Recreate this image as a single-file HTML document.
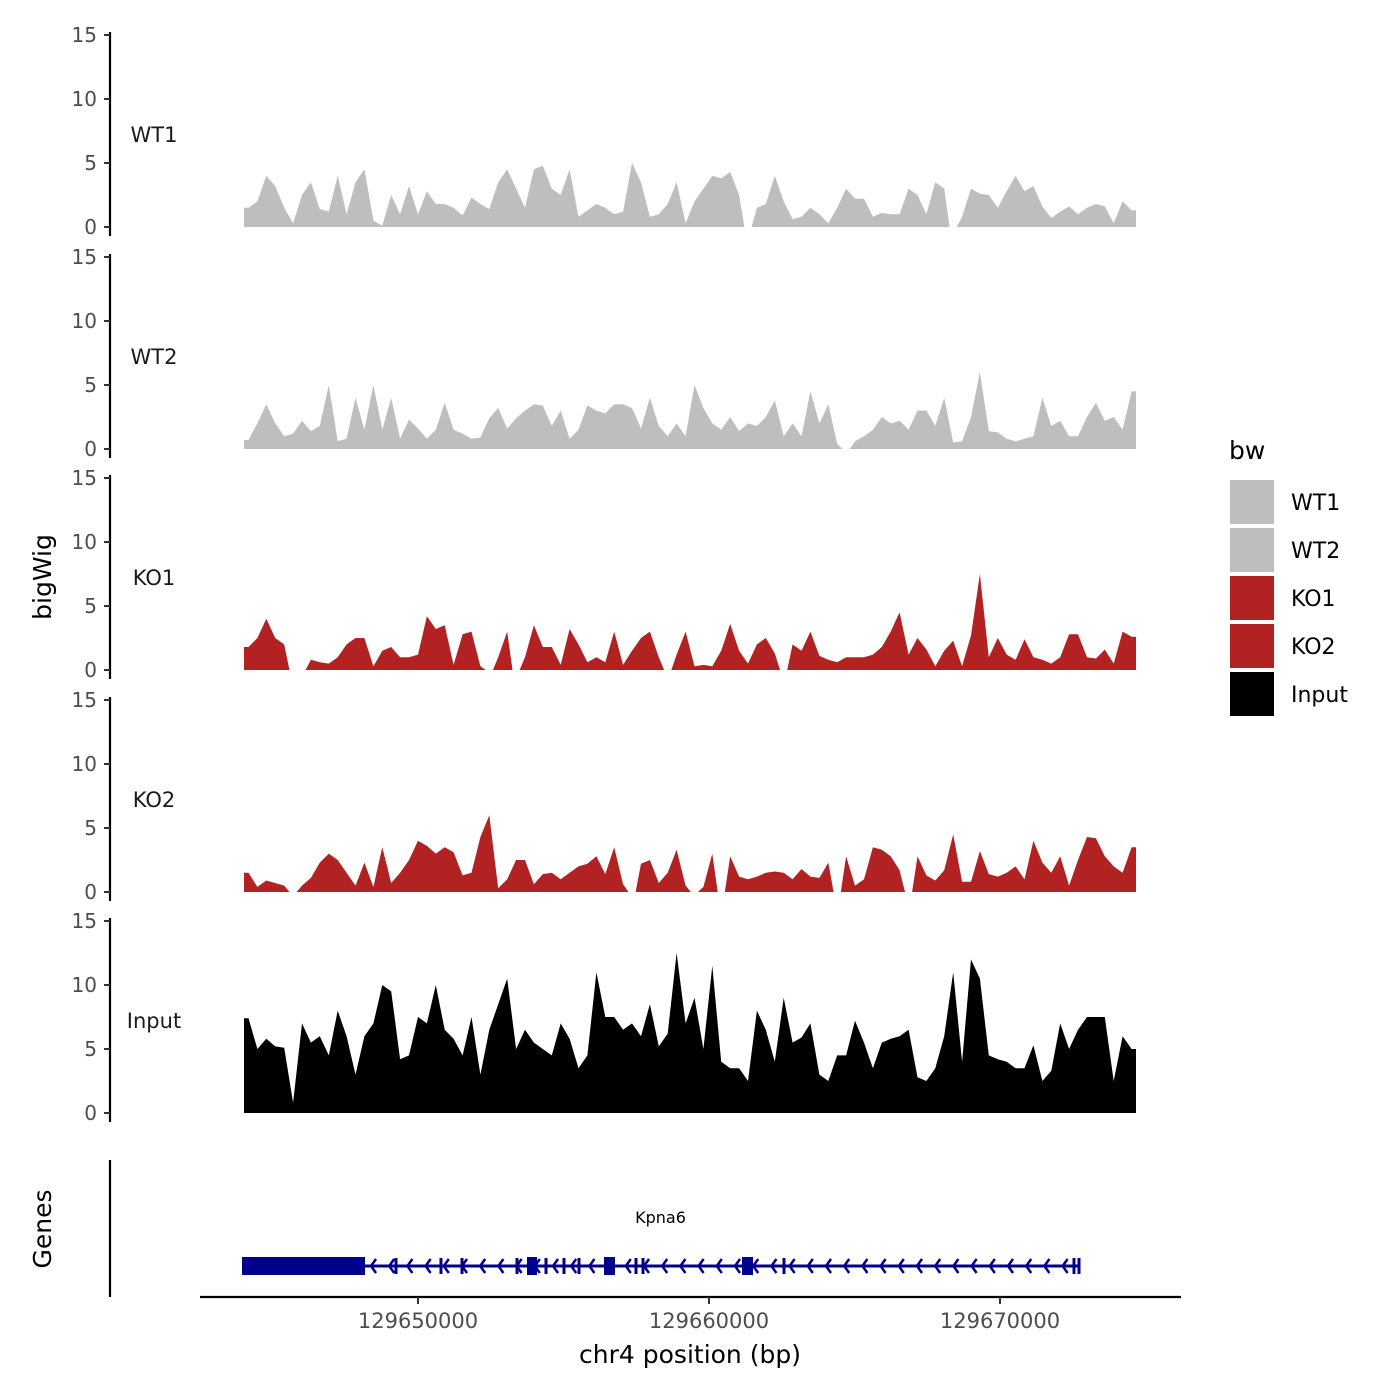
<!DOCTYPE html>
<html><head><meta charset="utf-8">
<style>
html,body{margin:0;padding:0;background:#fff;}
svg{display:block;font-family:"DejaVu Sans","Liberation Sans",sans-serif;}
</style></head>
<body>
<svg id="chart" width="1400" height="1400" viewBox="0 0 1400 1400" xmlns="http://www.w3.org/2000/svg">
<rect x="0" y="0" width="1400" height="1400" fill="#fff"/>
<g id="tracks"></g>
<g id="genes"></g>
<g id="xaxis"></g>
<text x="0" y="0" transform="translate(51,577) rotate(-90)" text-anchor="middle" font-size="25" fill="#000">bigWig</text>
<text x="0" y="0" transform="translate(51,1229) rotate(-90)" text-anchor="middle" font-size="25" fill="#000">Genes</text>
<text x="690" y="1363" text-anchor="middle" font-size="25" fill="#000">chr4 position (bp)</text>
<g id="legend">
<text x="1229" y="459" font-size="25" fill="#000">bw</text>
</g>
</svg>
<script>
const trackNames = ["WT1","WT2","KO1","KO2","Input"];
const trackColors = ["#bebebe","#bebebe","#b22222","#b22222","#000000"];
const regionStart = 129644021;
const regionEnd = 129674674;
const yTicks = [0,5,10,15];
const xTicks = [129650000,129660000,129670000];
const xTickLabels = ["129650000","129660000","129670000"];
const wt1Values = [1.5,2.0,4.0,3.2,1.5,0.3,2.5,3.5,1.4,1.2,4.0,1.0,3.5,4.5,0.5,0.1,2.5,1.0,3.2,1.0,2.8,1.8,1.8,1.5,0.9,2.3,1.8,1.4,3.5,4.5,3.0,1.5,4.5,4.8,3.0,2.5,4.5,0.8,1.3,1.8,1.5,1.0,1.2,5.0,3.5,0.8,1.0,1.8,3.5,0.3,2.0,3.0,4.0,3.8,4.3,2.5,null,1.5,1.8,4.0,2.0,0.6,0.8,1.5,1.0,0.3,1.5,3.0,2.2,2.2,0.8,1.1,1.0,1.0,3.0,2.5,1.0,3.5,3.0,null,0.8,3.0,2.6,2.5,1.5,2.8,4.0,2.8,3.2,1.6,0.7,1.2,1.6,1.0,1.5,1.8,1.6,0.3,2.0,1.3];
const wt2Values = [0.7,2.0,3.5,2.0,1.0,1.2,2.2,1.4,1.8,5.0,0.6,0.8,4.0,1.5,5.0,1.5,4.0,0.8,2.3,1.6,0.8,1.5,3.6,1.5,1.2,0.8,0.9,2.4,3.2,1.6,2.4,3.0,3.5,3.4,1.8,3.0,0.8,1.5,3.4,3.0,2.8,3.5,3.5,3.2,1.6,4.0,1.8,1.0,2.0,1.0,5.0,3.2,2.0,1.5,2.5,1.4,2.0,1.8,2.5,3.8,1.0,2.0,1.0,4.5,2.0,3.5,0.4,null,0.6,1.0,1.5,2.5,2.0,2.2,1.5,3.0,3.0,1.8,4.0,0.5,0.6,2.5,6.0,1.4,1.3,0.8,0.6,0.8,1.0,4.0,1.8,2.2,1.0,1.0,2.5,3.6,2.2,2.5,1.5,4.5];
const ko1Values = [1.8,2.5,4.0,2.5,2.0,null,null,0.8,0.6,0.5,1.0,2.0,2.5,2.5,0.3,1.5,1.8,1.0,1.0,1.2,4.2,3.2,3.5,0.4,2.8,3.0,0.3,null,1.0,3.0,null,1.0,3.5,1.8,1.8,0.4,3.2,2.0,0.6,1.0,0.6,3.0,0.4,1.5,2.5,3.0,1.0,null,1.2,3.0,0.3,0.4,0.3,1.5,3.6,1.5,0.5,2.0,2.5,1.3,null,2.0,1.5,3.0,1.1,0.8,0.6,1.0,1.0,1.0,1.2,1.8,3.0,4.5,1.2,2.5,1.6,0.3,1.5,2.3,0.3,2.7,7.5,1.0,2.5,1.2,0.8,2.4,1.0,0.8,0.5,1.0,2.8,2.8,1.0,0.9,1.6,0.5,3.0,2.6];
const ko2Values = [1.5,0.4,0.9,0.7,0.5,null,0.5,1.1,2.3,3.0,2.5,1.5,0.5,2.3,0.4,3.5,0.7,1.5,2.5,4.0,3.6,3.0,3.5,3.1,1.3,1.5,4.3,6.0,0.3,1.0,2.5,2.5,0.6,1.4,1.5,1.0,1.5,2.0,2.2,2.8,1.4,3.5,0.6,null,2.2,2.5,0.7,1.5,3.3,0.5,null,0.4,3.0,null,2.8,1.2,1.0,1.2,1.5,1.6,1.5,1.0,1.8,1.2,1.1,2.3,null,2.8,0.5,1.0,3.5,3.3,2.8,1.7,null,2.8,1.3,0.9,1.7,4.5,0.8,0.8,3.2,1.4,1.2,1.5,2.0,1.0,4.0,2.3,1.5,2.8,0.5,2.5,4.3,4.2,2.8,2.0,1.5,3.5];
const inputValues = [7.4,5.0,5.8,5.2,5.1,0.8,7.0,5.5,6.0,4.5,8.0,6.0,3.0,6.0,7.0,10.0,9.5,4.2,4.5,7.5,7.0,10.0,6.5,5.8,4.5,7.5,3.0,6.5,8.5,10.5,5.0,6.5,5.5,5.0,4.5,7.0,5.8,3.5,4.5,11.0,7.5,7.5,6.5,7.0,6.0,8.5,5.2,6.2,12.5,7.0,9.0,5.0,11.5,4.0,3.5,3.5,2.5,8.0,6.5,4.0,9.0,5.5,5.9,7.0,3.0,2.5,4.5,4.5,7.2,5.5,3.5,5.5,5.8,6.0,6.5,2.8,2.5,3.5,6.0,11.0,4.0,12.0,10.5,4.5,4.2,4.0,3.5,3.5,5.3,2.5,3.3,7.0,5.0,6.5,7.5,7.5,7.5,2.5,6.0,5.0];
const geneName = "Kpna6";
const geneStart = 129643952;
const geneEnd = 129672715;
const bigExonStarts = [129643952,129653746,129656392,129661134];
const bigExonEnds = [129648179,129654089,129656770,129661512];
const smallExons = [129649244,129650790,129651512,129653402,129654399,129655017,129655533,129657491,129657732,129662577,129672543,129672715];

const NS = "http://www.w3.org/2000/svg";
function mk(tag, attrs, parent){const e=document.createElementNS(NS,tag);for(const k in attrs)e.setAttribute(k,attrs[k]);parent.appendChild(e);return e;}
function xScale(bp){return 418 + (bp-129650000)*0.0291;}
const baselines = [227,449,670,892,1113];
const pxPerUnit = 12.8;
function yScale(t,v){return baselines[t]-v*pxPerUnit;}
const allValues = [wt1Values,wt2Values,ko1Values,ko2Values,inputValues];

const tracksG = document.getElementById('tracks');
allValues.forEach((vals,t)=>{
  const g = mk('g',{},tracksG);
  
  
  const n = vals.length;
  const step = (regionEnd-regionStart)/n;
  let seg = [];
  const segs = [];
  vals.forEach((v,i)=>{
    if(v===null){ if(seg.length){ seg.push([regionStart+step*(i+0.1),0]); segs.push(seg);} seg=[[regionStart+step*(i+0.9),0]]; return; }
    let bp = regionStart + step*(i+0.5);
    if(i===0) seg.push([regionStart,v]);
    seg.push([bp,v]);
    if(i===n-1) seg.push([regionEnd,v]);
  });
  if(seg.length) segs.push(seg);
  segs.forEach(s=>{
    let d = 'M'+xScale(s[0][0]).toFixed(1)+','+baselines[t];
    s.forEach(p=>{ d += ' L'+xScale(p[0]).toFixed(1)+','+yScale(t,p[1]).toFixed(1); });
    d += ' L'+xScale(s[s.length-1][0]).toFixed(1)+','+baselines[t]+' Z';
    const p = mk('path',{d:d,fill:trackColors[t],stroke:'none'},g);
    
    
  });
  const ax = mk('g',{},g);
  
  
  mk('line',{x1:110,x2:110,y1:yScale(t,15)-3,y2:baselines[t]+9,stroke:'#000','stroke-width':2.2},ax);
  yTicks.forEach(tv=>{
    const y=yScale(t,tv);
    mk('line',{x1:104,x2:110,y1:y,y2:y,stroke:'#333','stroke-width':2},ax);
    const tx=mk('text',{x:97,y:y+7,'text-anchor':'end','font-size':20,fill:'#4d4d4d'},ax);
    tx.textContent=tv;
    
    
  });
  const lab = mk('text',{x:154,y:baselines[t]-85,'text-anchor':'middle','font-size':21,fill:'#1a1a1a'},g);
  lab.textContent = trackNames[t];
  
  
});

const gG = document.getElementById('genes');
mk('line',{x1:110,x2:110,y1:1160,y2:1297,stroke:'#000','stroke-width':2.2},gG);
const gy = 1266;
const gl = mk('line',{x1:xScale(geneStart),x2:xScale(geneEnd),y1:gy,y2:gy,stroke:'#00008b','stroke-width':3},gG);


for(let ax=xScale(bigExonEnds[0])+6; ax<xScale(geneEnd)-4; ax+=18.2){
  mk('path',{d:'M'+(ax+5)+','+(gy-7)+' L'+ax+','+gy+' L'+(ax+5)+','+(gy+7),fill:'none',stroke:'#00008b','stroke-width':2.5},gG);
}
bigExonStarts.forEach((s,i)=>{
  const r = mk('rect',{x:xScale(s),y:gy-9,width:xScale(bigExonEnds[i])-xScale(s),height:18,fill:'#00008b'},gG);
  
  
});
smallExons.forEach(s=>{
  const r = mk('rect',{x:xScale(s)-1.5,y:gy-8,width:3,height:16,fill:'#00008b'},gG);
  
  
});
const gn = mk('text',{x:(xScale(geneStart)+xScale(geneEnd))/2,y:1223,'text-anchor':'middle','font-size':16,fill:'#000'},gG);
gn.textContent = geneName;



const xa = document.getElementById('xaxis');
mk('line',{x1:200,x2:1181,y1:1297,y2:1297,stroke:'#000','stroke-width':2.2},xa);
xTicks.forEach((v,i)=>{
  const x=xScale(v);
  mk('line',{x1:x,x2:x,y1:1297,y2:1304,stroke:'#333','stroke-width':2},xa);
  const t=mk('text',{x:x,y:1328,'text-anchor':'middle','font-size':21,fill:'#4d4d4d'},xa);
  t.textContent=xTickLabels[i];
  
  
});

const lg = document.getElementById('legend');
trackNames.forEach((nm,i)=>{
  const y0 = 480 + i*48;
  const r = mk('rect',{x:1230,y:y0,width:44,height:44,fill:trackColors[i]},lg);
  
  
  const t = mk('text',{x:1291,y:y0+30,'font-size':22,fill:'#000'},lg);
  t.textContent = nm;
  
  
});
</script>
</body></html>
